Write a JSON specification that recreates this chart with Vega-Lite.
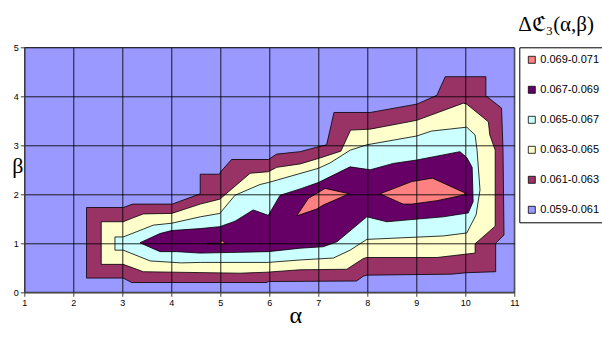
{
  "$schema": "https://vega.github.io/schema/vega-lite/v6.json",
  "width": 490,
  "height": 245,
  "autosize": {"type": "none"},
  "padding": {"left": 24.3, "top": 47.3, "right": 87.7, "bottom": 53.7},
  "background": "#ffffff",
  "title": {
    "text": "Δℭ₃(α,β)",
    "anchor": "start",
    "frame": "group",
    "dx": 494,
    "dy": 27,
    "offset": 14,
    "baseline": "bottom",
    "font": "Times New Roman, Liberation Serif, serif",
    "fontSize": 21,
    "fontWeight": "normal",
    "color": "#000000"
  },
  "data": {
    "values": [
      {"poly": "p0", "band": "0.059-0.061", "alpha": 1, "beta": 0},
      {"poly": "p0", "band": "0.059-0.061", "alpha": 11, "beta": 0},
      {"poly": "p0", "band": "0.059-0.061", "alpha": 11, "beta": 5},
      {"poly": "p0", "band": "0.059-0.061", "alpha": 1, "beta": 5},
      {"poly": "p0", "band": "0.059-0.061", "alpha": 1, "beta": 0},

      {"poly": "p1", "band": "0.061-0.063", "alpha": 2.27, "beta": 0.29},
      {"poly": "p1", "band": "0.061-0.063", "alpha": 2.27, "beta": 1.73},
      {"poly": "p1", "band": "0.061-0.063", "alpha": 3.02, "beta": 1.73},
      {"poly": "p1", "band": "0.061-0.063", "alpha": 3.21, "beta": 1.80},
      {"poly": "p1", "band": "0.061-0.063", "alpha": 4.02, "beta": 1.80},
      {"poly": "p1", "band": "0.061-0.063", "alpha": 4.59, "beta": 2.01},
      {"poly": "p1", "band": "0.061-0.063", "alpha": 4.59, "beta": 2.41},
      {"poly": "p1", "band": "0.061-0.063", "alpha": 4.99, "beta": 2.41},
      {"poly": "p1", "band": "0.061-0.063", "alpha": 5.00, "beta": 2.45},
      {"poly": "p1", "band": "0.061-0.063", "alpha": 5.23, "beta": 2.71},
      {"poly": "p1", "band": "0.061-0.063", "alpha": 5.98, "beta": 2.71},
      {"poly": "p1", "band": "0.061-0.063", "alpha": 6.15, "beta": 2.82},
      {"poly": "p1", "band": "0.061-0.063", "alpha": 6.63, "beta": 2.87},
      {"poly": "p1", "band": "0.061-0.063", "alpha": 7.00, "beta": 2.97},
      {"poly": "p1", "band": "0.061-0.063", "alpha": 7.17, "beta": 3.01},
      {"poly": "p1", "band": "0.061-0.063", "alpha": 7.32, "beta": 3.67},
      {"poly": "p1", "band": "0.061-0.063", "alpha": 8.06, "beta": 3.67},
      {"poly": "p1", "band": "0.061-0.063", "alpha": 9.01, "beta": 3.84},
      {"poly": "p1", "band": "0.061-0.063", "alpha": 9.42, "beta": 4.02},
      {"poly": "p1", "band": "0.061-0.063", "alpha": 9.59, "beta": 4.40},
      {"poly": "p1", "band": "0.061-0.063", "alpha": 10.42, "beta": 4.40},
      {"poly": "p1", "band": "0.061-0.063", "alpha": 10.42, "beta": 4.01},
      {"poly": "p1", "band": "0.061-0.063", "alpha": 10.74, "beta": 3.76},
      {"poly": "p1", "band": "0.061-0.063", "alpha": 10.77, "beta": 2.90},
      {"poly": "p1", "band": "0.061-0.063", "alpha": 10.79, "beta": 1.17},
      {"poly": "p1", "band": "0.061-0.063", "alpha": 10.62, "beta": 1.00},
      {"poly": "p1", "band": "0.061-0.063", "alpha": 10.62, "beta": 0.42},
      {"poly": "p1", "band": "0.061-0.063", "alpha": 10.03, "beta": 0.40},
      {"poly": "p1", "band": "0.061-0.063", "alpha": 9.72, "beta": 0.37},
      {"poly": "p1", "band": "0.061-0.063", "alpha": 7.99, "beta": 0.35},
      {"poly": "p1", "band": "0.061-0.063", "alpha": 7.92, "beta": 0.33},
      {"poly": "p1", "band": "0.061-0.063", "alpha": 7.78, "beta": 0.23},
      {"poly": "p1", "band": "0.061-0.063", "alpha": 5.98, "beta": 0.22},
      {"poly": "p1", "band": "0.061-0.063", "alpha": 5.95, "beta": 0.20},
      {"poly": "p1", "band": "0.061-0.063", "alpha": 3.19, "beta": 0.20},
      {"poly": "p1", "band": "0.061-0.063", "alpha": 3.02, "beta": 0.29},
      {"poly": "p1", "band": "0.061-0.063", "alpha": 2.27, "beta": 0.29},

      {"poly": "p2", "band": "0.063-0.065", "alpha": 2.57, "beta": 0.57},
      {"poly": "p2", "band": "0.063-0.065", "alpha": 2.57, "beta": 1.44},
      {"poly": "p2", "band": "0.063-0.065", "alpha": 3.02, "beta": 1.44},
      {"poly": "p2", "band": "0.063-0.065", "alpha": 3.22, "beta": 1.52},
      {"poly": "p2", "band": "0.063-0.065", "alpha": 3.43, "beta": 1.60},
      {"poly": "p2", "band": "0.063-0.065", "alpha": 4.01, "beta": 1.61},
      {"poly": "p2", "band": "0.063-0.065", "alpha": 4.59, "beta": 1.80},
      {"poly": "p2", "band": "0.063-0.065", "alpha": 4.99, "beta": 1.90},
      {"poly": "p2", "band": "0.063-0.065", "alpha": 5.61, "beta": 2.43},
      {"poly": "p2", "band": "0.063-0.065", "alpha": 5.98, "beta": 2.46},
      {"poly": "p2", "band": "0.063-0.065", "alpha": 6.15, "beta": 2.55},
      {"poly": "p2", "band": "0.063-0.065", "alpha": 6.63, "beta": 2.62},
      {"poly": "p2", "band": "0.063-0.065", "alpha": 7.00, "beta": 2.73},
      {"poly": "p2", "band": "0.063-0.065", "alpha": 7.46, "beta": 2.88},
      {"poly": "p2", "band": "0.063-0.065", "alpha": 7.66, "beta": 3.31},
      {"poly": "p2", "band": "0.063-0.065", "alpha": 8.06, "beta": 3.33},
      {"poly": "p2", "band": "0.063-0.065", "alpha": 9.01, "beta": 3.51},
      {"poly": "p2", "band": "0.063-0.065", "alpha": 9.96, "beta": 3.86},
      {"poly": "p2", "band": "0.063-0.065", "alpha": 10.03, "beta": 3.84},
      {"poly": "p2", "band": "0.063-0.065", "alpha": 10.47, "beta": 3.48},
      {"poly": "p2", "band": "0.063-0.065", "alpha": 10.50, "beta": 3.21},
      {"poly": "p2", "band": "0.063-0.065", "alpha": 10.61, "beta": 2.90},
      {"poly": "p2", "band": "0.063-0.065", "alpha": 10.61, "beta": 1.35},
      {"poly": "p2", "band": "0.063-0.065", "alpha": 10.20, "beta": 0.99},
      {"poly": "p2", "band": "0.063-0.065", "alpha": 10.20, "beta": 0.80},
      {"poly": "p2", "band": "0.063-0.065", "alpha": 9.42, "beta": 0.71},
      {"poly": "p2", "band": "0.063-0.065", "alpha": 7.99, "beta": 0.71},
      {"poly": "p2", "band": "0.063-0.065", "alpha": 7.92, "beta": 0.69},
      {"poly": "p2", "band": "0.063-0.065", "alpha": 7.58, "beta": 0.47},
      {"poly": "p2", "band": "0.063-0.065", "alpha": 6.63, "beta": 0.46},
      {"poly": "p2", "band": "0.063-0.065", "alpha": 5.95, "beta": 0.41},
      {"poly": "p2", "band": "0.063-0.065", "alpha": 5.40, "beta": 0.39},
      {"poly": "p2", "band": "0.063-0.065", "alpha": 3.43, "beta": 0.42},
      {"poly": "p2", "band": "0.063-0.065", "alpha": 3.02, "beta": 0.57},
      {"poly": "p2", "band": "0.063-0.065", "alpha": 2.57, "beta": 0.57},

      {"poly": "p3", "band": "0.065-0.067", "alpha": 2.85, "beta": 0.86},
      {"poly": "p3", "band": "0.065-0.067", "alpha": 2.85, "beta": 1.13},
      {"poly": "p3", "band": "0.065-0.067", "alpha": 3.02, "beta": 1.13},
      {"poly": "p3", "band": "0.065-0.067", "alpha": 3.43, "beta": 1.29},
      {"poly": "p3", "band": "0.065-0.067", "alpha": 3.63, "beta": 1.37},
      {"poly": "p3", "band": "0.065-0.067", "alpha": 4.01, "beta": 1.41},
      {"poly": "p3", "band": "0.065-0.067", "alpha": 4.59, "beta": 1.54},
      {"poly": "p3", "band": "0.065-0.067", "alpha": 4.99, "beta": 1.61},
      {"poly": "p3", "band": "0.065-0.067", "alpha": 5.30, "beta": 1.98},
      {"poly": "p3", "band": "0.065-0.067", "alpha": 5.81, "beta": 2.20},
      {"poly": "p3", "band": "0.065-0.067", "alpha": 5.98, "beta": 2.24},
      {"poly": "p3", "band": "0.065-0.067", "alpha": 7.00, "beta": 2.53},
      {"poly": "p3", "band": "0.065-0.067", "alpha": 7.24, "beta": 2.64},
      {"poly": "p3", "band": "0.065-0.067", "alpha": 7.65, "beta": 2.90},
      {"poly": "p3", "band": "0.065-0.067", "alpha": 7.99, "beta": 3.01},
      {"poly": "p3", "band": "0.065-0.067", "alpha": 9.01, "beta": 3.19},
      {"poly": "p3", "band": "0.065-0.067", "alpha": 9.31, "beta": 3.29},
      {"poly": "p3", "band": "0.065-0.067", "alpha": 10.03, "beta": 3.37},
      {"poly": "p3", "band": "0.065-0.067", "alpha": 10.20, "beta": 3.21},
      {"poly": "p3", "band": "0.065-0.067", "alpha": 10.24, "beta": 2.90},
      {"poly": "p3", "band": "0.065-0.067", "alpha": 10.30, "beta": 2.09},
      {"poly": "p3", "band": "0.065-0.067", "alpha": 10.22, "beta": 1.58},
      {"poly": "p3", "band": "0.065-0.067", "alpha": 10.03, "beta": 1.21},
      {"poly": "p3", "band": "0.065-0.067", "alpha": 9.55, "beta": 1.15},
      {"poly": "p3", "band": "0.065-0.067", "alpha": 7.99, "beta": 1.08},
      {"poly": "p3", "band": "0.065-0.067", "alpha": 7.65, "beta": 0.86},
      {"poly": "p3", "band": "0.065-0.067", "alpha": 7.31, "beta": 0.70},
      {"poly": "p3", "band": "0.065-0.067", "alpha": 6.63, "beta": 0.66},
      {"poly": "p3", "band": "0.065-0.067", "alpha": 5.98, "beta": 0.61},
      {"poly": "p3", "band": "0.065-0.067", "alpha": 4.59, "beta": 0.61},
      {"poly": "p3", "band": "0.065-0.067", "alpha": 4.21, "beta": 0.60},
      {"poly": "p3", "band": "0.065-0.067", "alpha": 3.57, "beta": 0.64},
      {"poly": "p3", "band": "0.065-0.067", "alpha": 3.02, "beta": 0.86},
      {"poly": "p3", "band": "0.065-0.067", "alpha": 2.85, "beta": 0.86},

      {"poly": "p4", "band": "0.067-0.069", "alpha": 3.36, "beta": 1.01},
      {"poly": "p4", "band": "0.067-0.069", "alpha": 3.77, "beta": 1.20},
      {"poly": "p4", "band": "0.067-0.069", "alpha": 4.01, "beta": 1.26},
      {"poly": "p4", "band": "0.067-0.069", "alpha": 4.59, "beta": 1.30},
      {"poly": "p4", "band": "0.067-0.069", "alpha": 4.99, "beta": 1.34},
      {"poly": "p4", "band": "0.067-0.069", "alpha": 5.30, "beta": 1.45},
      {"poly": "p4", "band": "0.067-0.069", "alpha": 5.67, "beta": 1.68},
      {"poly": "p4", "band": "0.067-0.069", "alpha": 5.98, "beta": 1.57},
      {"poly": "p4", "band": "0.067-0.069", "alpha": 6.22, "beta": 1.98},
      {"poly": "p4", "band": "0.067-0.069", "alpha": 6.63, "beta": 2.11},
      {"poly": "p4", "band": "0.067-0.069", "alpha": 7.00, "beta": 2.24},
      {"poly": "p4", "band": "0.067-0.069", "alpha": 7.65, "beta": 2.56},
      {"poly": "p4", "band": "0.067-0.069", "alpha": 8.06, "beta": 2.50},
      {"poly": "p4", "band": "0.067-0.069", "alpha": 8.53, "beta": 2.63},
      {"poly": "p4", "band": "0.067-0.069", "alpha": 9.01, "beta": 2.70},
      {"poly": "p4", "band": "0.067-0.069", "alpha": 9.89, "beta": 2.87},
      {"poly": "p4", "band": "0.067-0.069", "alpha": 10.03, "beta": 2.75},
      {"poly": "p4", "band": "0.067-0.069", "alpha": 10.14, "beta": 2.55},
      {"poly": "p4", "band": "0.067-0.069", "alpha": 10.16, "beta": 1.85},
      {"poly": "p4", "band": "0.067-0.069", "alpha": 10.06, "beta": 1.62},
      {"poly": "p4", "band": "0.067-0.069", "alpha": 9.55, "beta": 1.54},
      {"poly": "p4", "band": "0.067-0.069", "alpha": 9.08, "beta": 1.50},
      {"poly": "p4", "band": "0.067-0.069", "alpha": 8.40, "beta": 1.44},
      {"poly": "p4", "band": "0.067-0.069", "alpha": 7.99, "beta": 1.54},
      {"poly": "p4", "band": "0.067-0.069", "alpha": 7.38, "beta": 1.03},
      {"poly": "p4", "band": "0.067-0.069", "alpha": 7.10, "beta": 0.93},
      {"poly": "p4", "band": "0.067-0.069", "alpha": 6.63, "beta": 0.90},
      {"poly": "p4", "band": "0.067-0.069", "alpha": 5.98, "beta": 0.83},
      {"poly": "p4", "band": "0.067-0.069", "alpha": 4.59, "beta": 0.80},
      {"poly": "p4", "band": "0.067-0.069", "alpha": 4.11, "beta": 0.83},
      {"poly": "p4", "band": "0.067-0.069", "alpha": 3.77, "beta": 0.83},
      {"poly": "p4", "band": "0.067-0.069", "alpha": 3.36, "beta": 1.01},

      {"poly": "p5", "band": "0.069-0.071", "alpha": 6.56, "beta": 1.56},
      {"poly": "p5", "band": "0.069-0.071", "alpha": 6.80, "beta": 1.92},
      {"poly": "p5", "band": "0.069-0.071", "alpha": 7.14, "beta": 2.12},
      {"poly": "p5", "band": "0.069-0.071", "alpha": 7.63, "beta": 2.01},
      {"poly": "p5", "band": "0.069-0.071", "alpha": 7.10, "beta": 1.78},
      {"poly": "p5", "band": "0.069-0.071", "alpha": 6.97, "beta": 1.70},
      {"poly": "p5", "band": "0.069-0.071", "alpha": 6.56, "beta": 1.56},

      {"poly": "p6", "band": "0.069-0.071", "alpha": 8.26, "beta": 2.01},
      {"poly": "p6", "band": "0.069-0.071", "alpha": 8.91, "beta": 2.26},
      {"poly": "p6", "band": "0.069-0.071", "alpha": 9.33, "beta": 2.33},
      {"poly": "p6", "band": "0.069-0.071", "alpha": 9.99, "beta": 2.03},
      {"poly": "p6", "band": "0.069-0.071", "alpha": 9.99, "beta": 1.99},
      {"poly": "p6", "band": "0.069-0.071", "alpha": 9.42, "beta": 1.87},
      {"poly": "p6", "band": "0.069-0.071", "alpha": 8.91, "beta": 1.80},
      {"poly": "p6", "band": "0.069-0.071", "alpha": 8.73, "beta": 1.80},
      {"poly": "p6", "band": "0.069-0.071", "alpha": 8.26, "beta": 2.01},

      {"poly": "p7", "band": "0.069-0.071", "alpha": 4.72, "beta": 1.00},
      {"poly": "p7", "band": "0.069-0.071", "alpha": 4.98, "beta": 1.00},
      {"poly": "p7", "band": "0.069-0.071", "alpha": 5.04, "beta": 1.05},
      {"poly": "p7", "band": "0.069-0.071", "alpha": 5.10, "beta": 1.00},
      {"poly": "p7", "band": "0.069-0.071", "alpha": 5.13, "beta": 0.99},
      {"poly": "p7", "band": "0.069-0.071", "alpha": 4.72, "beta": 0.99},
      {"poly": "p7", "band": "0.069-0.071", "alpha": 4.72, "beta": 1.00}
    ]
  },
  "mark": {
    "type": "line",
    "filled": true,
    "stroke": "#000000",
    "strokeWidth": 0.8,
    "strokeJoin": "miter",
    "clip": true
  },
  "encoding": {
    "x": {
      "field": "alpha",
      "type": "quantitative",
      "scale": {"domain": [1, 11], "nice": false, "zero": false},
      "axis": {
        "title": "α",
        "values": [1, 2, 3, 4, 5, 6, 7, 8, 9, 10, 11],
        "format": "d",
        "zindex": 1,
        "grid": true,
        "titleFont": "Times New Roman, Liberation Serif, serif",
        "titleFontSize": 24,
        "titleFontWeight": "normal",
        "titleColor": "#000000",
        "titleX": 271,
        "titleY": 30,
        "titleBaseline": "alphabetic",
        "titleAlign": "center",
        "labelFlush": false,
        "labelOverlap": false,
        "labelPadding": 2
      }
    },
    "y": {
      "field": "beta",
      "type": "quantitative",
      "scale": {"domain": [0, 5], "nice": false, "zero": false},
      "axis": {
        "title": "β",
        "values": [0, 1, 2, 3, 4, 5],
        "format": "d",
        "zindex": 1,
        "grid": true,
        "titleAngle": 0,
        "titleFont": "Times New Roman, Liberation Serif, serif",
        "titleFontSize": 22,
        "titleFontWeight": "normal",
        "titleColor": "#000000",
        "titleX": -7,
        "titleY": 125,
        "titleBaseline": "alphabetic",
        "titleAlign": "center",
        "labelFlush": false,
        "labelOverlap": false,
        "labelPadding": 2
      }
    },
    "detail": {"field": "poly"},
    "order": {"value": null},
    "color": {
      "field": "band",
      "type": "nominal",
      "scale": {
        "domain": ["0.069-0.071", "0.067-0.069", "0.065-0.067", "0.063-0.065", "0.061-0.063", "0.059-0.061"],
        "range": ["#FF8080", "#660066", "#CCFFFF", "#FFFFCC", "#993366", "#9999FF"]
      },
      "legend": {
        "title": null,
        "orient": "none",
        "legendX": 495,
        "legendY": 0,
        "symbolType": "square",
        "symbolSize": 49,
        "symbolStrokeColor": "#000000",
        "symbolStrokeWidth": 0.8,
        "symbolOpacity": 1,
        "labelFont": "Arial, Liberation Sans, sans-serif",
        "labelFontSize": 11,
        "labelColor": "#000000",
        "labelOffset": 3,
        "padding": 7,
        "rowPadding": 18,
        "strokeColor": "#000000",
        "fillColor": "#ffffff"
      }
    }
  },
  "config": {
    "view": {"stroke": null},
    "axis": {
      "gridColor": "#000000",
      "gridOpacity": 0.85,
      "gridWidth": 1,
      "domainColor": "#444444",
      "tickColor": "#444444",
      "tickSize": 4,
      "labelFont": "Arial, Liberation Sans, sans-serif",
      "labelFontSize": 9,
      "labelColor": "#000000"
    }
  }
}
